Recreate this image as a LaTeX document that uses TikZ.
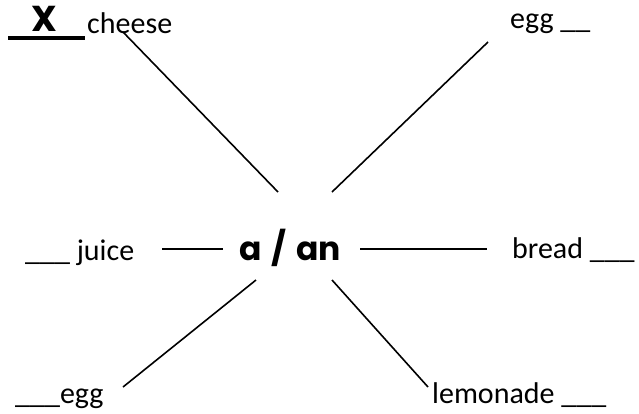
\documentclass[tikz,border=0pt]{standalone}
\usepackage{fontspec}
\setmainfont{Carlito}
\newfontfamily\roundfont{Poppins}[BoldFont={* Bold}]

\begin{document}
\begin{tikzpicture}[x=1pt, y=-1pt]
    % Define styles
    \tikzstyle{word} = [inner sep=0pt, anchor=base west, font=\fontsize{30}{36}\selectfont]
    \tikzstyle{hubword} = [inner sep=0pt, anchor=base, font=\fontsize{33}{40}\selectfont\roundfont\bfseries]
    \tikzstyle{link} = [draw=black, line width=1.6pt]
    \tikzstyle{answerline} = [draw=black, line width=3.2pt]

    \useasboundingbox (0, 0) rectangle (639, 413);

    % Centre
    \node[hubword] (hub) at (290, 260) {a\hspace{0.3em}/\hspace{0.3em}an};

    % Words round it
    \node[hubword, font=\fontsize{36}{40}\selectfont\roundfont\bfseries] (xmark) at (44, 31) {X};
    \node[word] (cheese) at (87, 33) {cheese};
    \node[word] (eggtop) at (510, 28) {egg \_\_};
    \node[word] (juice) at (25, 260) {\_\_\_ juice};
    \node[word] (bread) at (512, 258) {bread \_\_\_};
    \node[word] (eggbot) at (15, 403) {\_\_\_egg};
    \node[word] (lemonade) at (432, 403) {lemonade \_\_\_};

    % Underline of the answer
    \coordinate (ula) at (8, 38);
    \coordinate (ulb) at (85, 38);
    \draw[answerline] (ula) -- (ulb);

    % Ends of the lines
    \coordinate (tla) at (123, 32);
    \coordinate (tlb) at (278, 192);
    \coordinate (tra) at (488, 42);
    \coordinate (trb) at (332, 192);
    \coordinate (mla) at (162, 249);
    \coordinate (mlb) at (223, 249);
    \coordinate (mra) at (360, 249);
    \coordinate (mrb) at (487, 249);
    \coordinate (bla) at (256, 280);
    \coordinate (blb) at (123, 387);
    \coordinate (bra) at (332, 280);
    \coordinate (brb) at (428, 387);

    % Lines
    \draw[link] (tla) -- (tlb);
    \draw[link] (tra) -- (trb);
    \draw[link] (mla) -- (mlb);
    \draw[link] (mra) -- (mrb);
    \draw[link] (bla) -- (blb);
    \draw[link] (bra) -- (brb);

\end{tikzpicture}
\end{document}
